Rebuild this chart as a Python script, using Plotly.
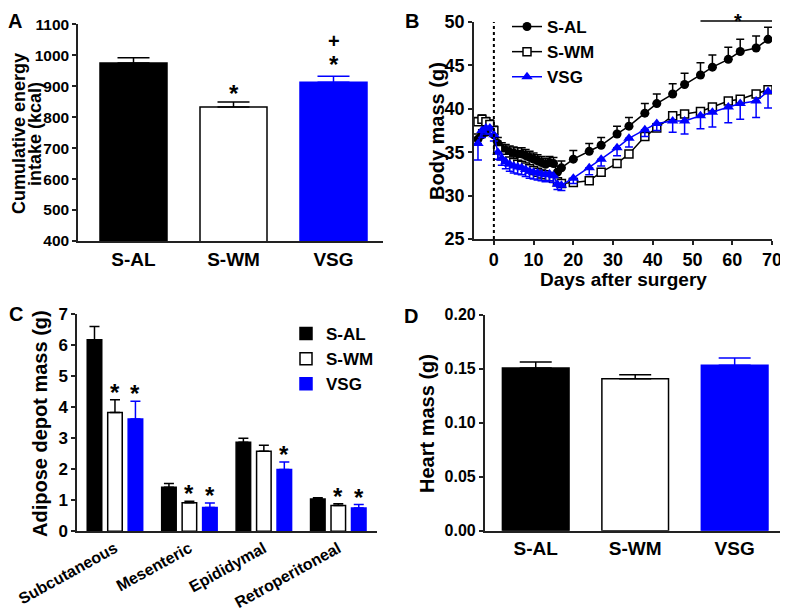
import plotly.graph_objects as go

FONT = "Liberation Sans, Arial, sans-serif"
BLUE = "#0000FF"
AXC = "#222222"
W, H = 780, 608  # page body has an 8px margin inside the 788x616 window

groups = ["S-AL", "S-WM", "VSG"]
group_fill = ["black", "white", BLUE]
group_line = ["black", "black", BLUE]

# A: cumulative energy intake (kcal)
intake_mean = [975, 833, 913]
intake_sem = [17, 16, 19]

# B: body mass over time (g)
days = [-4, -3, -2, -1, 0, 1, 2, 3, 4, 5, 6, 7, 8, 9, 10, 11, 12, 13, 14, 15, 16, 17,
        20, 24, 27, 31, 34, 38, 41, 45, 48, 52, 55, 59, 62, 66, 69]
sal_mass = [36.5, 37.0, 37.3, 37.5, 37.0, 36.0, 35.4, 35.2, 35.0, 34.9, 34.8, 34.8, 34.6,
            34.4, 34.2, 34.0, 33.8, 33.6, 33.8, 33.7, 32.7, 33.2,
            34.2, 35.1, 35.8, 37.1, 38.0, 39.5, 40.6, 41.7, 42.8, 43.9, 44.8, 45.7, 46.6, 47.0, 48.0]
sal_err = [0.6, 0.6, 0.7, 0.7, 0.7, 0.7, 0.7, 0.7, 0.7, 0.7, 0.7, 0.7, 0.7,
           0.7, 0.7, 0.7, 0.7, 0.7, 0.7, 0.7, 0.7, 0.8,
           1.0, 0.9, 0.9, 0.9, 1.0, 1.1, 1.1, 1.2, 1.3, 1.4, 1.4, 1.4, 1.4, 1.4, 1.4]
swm_mass = [38.5, 38.8, 38.5, 38.2, 37.5, 35.3, 34.6, 34.3, 34.0, 33.8, 33.6, 33.5, 33.3,
            33.1, 32.9, 32.7, 32.5, 32.4, 32.2, 32.0, 31.6, 31.4,
            31.5, 31.7, 32.7, 33.7, 34.8, 36.8, 37.8, 39.2, 39.4, 39.7, 40.2, 40.9, 41.1, 41.7, 42.2]
swm_err = [0.5, 0.5, 0.5, 0.5, 0.5, 0.4, 0.4, 0.4, 0.4, 0.4, 0.4, 0.4, 0.4,
           0.4, 0.4, 0.4, 0.4, 0.4, 0.4, 0.4, 0.4, 0.4,
           0.3, 0.3, 0.3, 0.3, 0.3, 0.3, 0.3, 0.3, 0.3, 0.3, 0.3, 0.3, 0.3, 0.3, 0.3]
vsg_mass = [36.0, 37.5, 37.8, 37.8, 37.0, 35.0, 34.3, 33.9, 33.6, 33.4, 33.3, 33.2, 33.0,
            32.8, 32.7, 32.6, 32.5, 32.4, 32.5, 32.3, 31.3, 31.2,
            32.0, 33.2, 34.2, 35.5, 36.6, 37.6, 38.3, 38.6, 38.6, 39.2, 39.6, 40.2, 40.6, 40.9, 42.0]
vsg_err = [1.9, 0.8, 0.7, 0.7, 0.7, 0.8, 0.8, 0.8, 0.8, 0.8, 0.8, 0.8, 0.8,
           0.8, 0.8, 0.8, 0.8, 0.8, 0.8, 0.8, 0.6, 0.6,
           0.6, 0.8, 0.8, 0.9, 1.0, 0.8, 0.8, 1.3, 1.5, 1.5, 1.7, 1.8, 1.8, 1.9, 1.9]

# C: adipose depot mass (g)
depots = ["Subcutaneous", "Mesenteric", "Epididymal", "Retroperitoneal"]
sal_fat = [6.17, 1.42, 2.87, 1.04]
sal_fat_err = [0.43, 0.12, 0.13, 0.04]
swm_fat = [3.83, 0.92, 2.58, 0.83]
swm_fat_err = [0.41, 0.05, 0.19, 0.06]
vsg_fat = [3.62, 0.77, 1.99, 0.75]
vsg_fat_err = [0.57, 0.14, 0.24, 0.11]
swm_fat_sig = [True, True, False, True]
vsg_fat_sig = [True, True, True, True]

# D: heart mass (g)
heart_mean = [0.1506, 0.1407, 0.1531]
heart_sem = [0.0056, 0.0037, 0.0068]


def bold(size):
    return dict(family=FONT, size=size, color="black", weight="bold")


def X(px):
    return (px - 8) / W


def Y(py):
    return 1 - (py - 8) / H


fig = go.Figure()

# ---- A and D: one trace per group, sharing one slot so they don't get grouped
for xa, ya, means, sems in [("x", "y", intake_mean, intake_sem),
                            ("x4", "y4", heart_mean, heart_sem)]:
    for i, g in enumerate(groups):
        fig.add_trace(go.Bar(
            x=[g], y=[means[i]], width=0.67, offsetgroup="one" + xa,
            marker=dict(color=group_fill[i], line=dict(color=group_line[i], width=1.5)),
            error_y=dict(type="data", array=[sems[i]], arrayminus=[0], symmetric=False,
                         color=group_line[i], thickness=1.5, width=16),
            showlegend=False, xaxis=xa, yaxis=ya,
        ))

# ---- B
series_b = [
    ("S-AL", sal_mass, sal_err, "black",
     dict(symbol="circle", size=9, color="black")),
    ("S-WM", swm_mass, swm_err, "black",
     dict(symbol="square", size=8, color="white", line=dict(width=1.5, color="black"))),
    ("VSG", vsg_mass, vsg_err, BLUE,
     dict(symbol="triangle-up", size=10, color=BLUE)),
]
for name, vals, errs, col, mk in series_b:
    up = errs if name != "VSG" else [0] * len(errs)
    down = [0] * len(errs) if name != "VSG" else errs
    fig.add_trace(go.Scatter(
        x=days, y=vals, name=name, mode="lines+markers",
        line=dict(color=col, width=1.5), marker=mk,
        error_y=dict(type="data", array=up, arrayminus=down, symmetric=False,
                     color=col, thickness=1.5, width=4),
        xaxis="x2", yaxis="y2", legend="legend",
    ))

# ---- C
fat = [(sal_fat, sal_fat_err), (swm_fat, swm_fat_err), (vsg_fat, vsg_fat_err)]
for i, (vals, errs) in enumerate(fat):
    fig.add_trace(go.Bar(
        x=depots, y=vals, name=groups[i],
        marker=dict(color=group_fill[i], line=dict(color=group_line[i], width=1.5)),
        error_y=dict(type="data", array=errs, arrayminus=[0] * 4, symmetric=False,
                     color=group_line[i], thickness=1.5, width=5),
        xaxis="x3", yaxis="y3", legend="legend2",
    ))

ax = dict(showgrid=False, zeroline=False, showline=True, linecolor=AXC, linewidth=1.5,
          ticks="outside", tickcolor=AXC, tickwidth=1.5, ticklen=4, automargin=False,
          ticklabeloverflow="allow")

annotations = []
# stars in A
annotations.append(dict(x="S-WM", y=intake_mean[1] + intake_sem[1], xref="x", yref="y",
                        text="*", showarrow=False, yanchor="bottom", font=bold(24), yshift=-7))
annotations.append(dict(x="VSG", y=intake_mean[2] + intake_sem[2], xref="x", yref="y",
                        text="*", showarrow=False, yanchor="bottom", font=bold(24), yshift=-4))
annotations.append(dict(x="VSG", y=intake_mean[2] + intake_sem[2], xref="x", yref="y",
                        text="+", showarrow=False, yanchor="bottom", font=bold(20), yshift=22))
# stars in C
for j in range(4):
    if swm_fat_sig[j]:
        annotations.append(dict(x=j, y=swm_fat[j] + swm_fat_err[j], xref="x3", yref="y3",
                                text="*", showarrow=False, yanchor="bottom",
                                font=bold(24), yshift=-8))
    if vsg_fat_sig[j]:
        annotations.append(dict(x=j + 0.275, y=vsg_fat[j] + vsg_fat_err[j], xref="x3",
                                yref="y3", text="*", showarrow=False, yanchor="bottom",
                                font=bold(24), yshift=-8))
# star over late days in B
annotations.append(dict(x=61.5, y=Y(8), xref="x2", yref="paper", text="*",
                        showarrow=False, yanchor="top", font=bold(20)))
# panel letters
for letter, px in [("A", 15), ("B", 412)]:
    annotations.append(dict(x=X(px), y=Y(8), xref="paper", yref="paper",
                            text=letter, showarrow=False, font=bold(20),
                            xanchor="center", yanchor="top"))
for letter, px, py in [("C", 16, 314), ("D", 411, 316)]:
    annotations.append(dict(x=X(px), y=Y(py), xref="paper", yref="paper",
                            text=letter, showarrow=False, font=bold(20),
                            xanchor="center", yanchor="middle"))
# axis titles
titles = [
    ("Cumulative energy", 19, 134, -90, 18),
    ("intake (kcal)", 35, 134, -90, 18),
    ("Body mass (g)", 437, 131, -90, 20),
    ("Days after surgery", 623, 279, 0, 19),
    ("Adipose depot mass (g)", 40, 424, -90, 20),
    ("Heart mass (g)", 427, 424, -90, 20),
]
for text, px, py, ang, size in titles:
    annotations.append(dict(x=X(px), y=Y(py), xref="paper", yref="paper", text=text,
                            textangle=ang, showarrow=False, font=bold(size),
                            xanchor="center", yanchor="middle"))

shapes = [
    dict(type="line", xref="x2", yref="y2", x0=0, x1=0, y0=25, y1=50,
         line=dict(color="black", width=2, dash="dot")),
    dict(type="line", xref="x2", yref="paper", x0=52, x1=70.2,
         y0=Y(21), y1=Y(21), line=dict(color="black", width=1.5)),
]

fig.update_layout(
    width=W, height=H,
    margin=dict(l=0, r=0, t=0, b=0),
    paper_bgcolor="white", plot_bgcolor="white",
    font=bold(16),
    barmode="group", bargap=0.175, bargroupgap=0.29,
    xaxis=dict(ax, domain=[X(78), X(383)], range=[-0.555, 2.495], ticks="",
               tickfont=bold(19), anchor="y"),
    yaxis=dict(ax, domain=[Y(241), Y(24.3)], range=[400, 1100], dtick=100,
               tickfont=bold(15.5), anchor="x"),
    xaxis2=dict(ax, domain=[X(474), X(772)], range=[-5, 70], tickvals=list(range(0, 71, 10)),
                tickfont=bold(18), anchor="y2"),
    yaxis2=dict(ax, domain=[Y(239), Y(22)], range=[25, 50], dtick=5,
                tickfont=bold(18), anchor="x2"),
    xaxis3=dict(ax, domain=[X(77), X(377)], range=[-0.51, 3.52], ticks="",
                tickangle=-29, tickfont=bold(16), anchor="y3"),
    yaxis3=dict(ax, domain=[Y(531.3), Y(314)], range=[0, 7], dtick=1,
                tickfont=bold(17), anchor="x3"),
    xaxis4=dict(ax, domain=[X(484.7), X(784.7)], range=[-0.513, 2.503], ticks="",
                tickfont=bold(19), anchor="y4"),
    yaxis4=dict(ax, domain=[Y(530.7), Y(314.7)], range=[0, 0.2], dtick=0.05,
                tickformat=".2f", tickfont=bold(16), anchor="x4"),
    legend=dict(x=X(507), y=Y(9), xanchor="left", yanchor="top",
                font=bold(17), bgcolor="rgba(0,0,0,0)", tracegroupgap=0),
    legend2=dict(x=X(286), y=Y(316), xanchor="left", yanchor="top",
                 font=bold(17), bgcolor="rgba(0,0,0,0)"),
    annotations=annotations,
    shapes=shapes,
)

fig.write_html("out.html")
